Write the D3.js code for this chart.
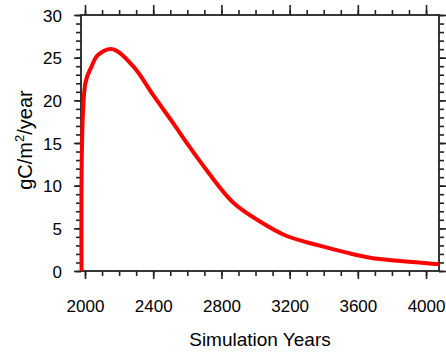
<!DOCTYPE html>
<html>
<head>
<meta charset="utf-8">
<script src="https://cdn.jsdelivr.net/npm/d3@7"></script>
<style>
  body { margin: 0; background: #fff; }
  svg text { font-family: "Liberation Sans", Arial, sans-serif; fill: #000; }
</style>
</head>
<body>
<svg id="chart" width="446" height="353"></svg>
<script>
// --- data ---
const years = [1980, 2002, 2037, 2076, 2160, 2282, 2400, 2518, 2604, 2721, 2870, 3026, 3183, 3370, 3535, 3672, 3848, 4063, 4076];
const flux  = [0, 22.0, 23.9, 25.3, 26.0, 24.0, 20.6, 17.3, 14.8, 11.6, 8.0, 5.8, 4.1, 3.0, 2.15, 1.56, 1.17, 0.82, 0.80];
const xTickValues = [2000, 2400, 2800, 3200, 3600, 4000];
const yTickValues = [0, 5, 10, 15, 20, 25, 30];

// frame edges (pixels)
const frameL = 81, frameR = 439, frameT = 15, frameB = 271;

const svg = d3.select("#chart");

const x = d3.scaleLinear().domain([1976.5, 4076]).range([frameL, frameR]);
const y = d3.scaleLinear().domain([0, 30]).range([frameB, frameT]);

const xMinor = d3.range(2000, 4076, 100);
const yMinor = d3.range(0, 31, 1);

const axisColor = "#222";

// ==========================================
// axes: ticks point outward on all four sides
// ==========================================
function styleAxis(g) {
    g.select(".domain").remove();
    g.selectAll("line").attr("stroke", axisColor).attr("stroke-width", 1.6);
}

// minor ticks first, majors on top
svg.append("g").attr("transform", `translate(0,${frameB})`)
    .call(d3.axisBottom(x).tickValues(xMinor).tickSize(5).tickFormat(""))
    .call(styleAxis);
svg.append("g").attr("transform", `translate(0,${frameT})`)
    .call(d3.axisTop(x).tickValues(xMinor).tickSize(5).tickFormat(""))
    .call(styleAxis);
svg.append("g").attr("transform", `translate(${frameL},0)`)
    .call(d3.axisLeft(y).tickValues(yMinor).tickSize(5).tickFormat(""))
    .call(styleAxis);
svg.append("g").attr("transform", `translate(${frameR},0)`)
    .call(d3.axisRight(y).tickValues(yMinor).tickSize(5).tickFormat(""))
    .call(styleAxis);

const xAxis = svg.append("g").attr("transform", `translate(0,${frameB})`)
    .call(d3.axisBottom(x).tickValues(xTickValues).tickSize(8).tickFormat(d3.format("d")))
    .call(styleAxis);
svg.append("g").attr("transform", `translate(0,${frameT})`)
    .call(d3.axisTop(x).tickValues(xTickValues).tickSize(10).tickFormat(""))
    .call(styleAxis);
const yAxis = svg.append("g").attr("transform", `translate(${frameL},0)`)
    .call(d3.axisLeft(y).tickValues(yTickValues).tickSize(7).tickFormat(d3.format("d")))
    .call(styleAxis);
svg.append("g").attr("transform", `translate(${frameR},0)`)
    .call(d3.axisRight(y).tickValues(yTickValues).tickSize(8).tickFormat(""))
    .call(styleAxis);

xAxis.selectAll("text").attr("font-size", 17).attr("fill", "#000").attr("dy", 0).attr("y", 41);
yAxis.selectAll("text").attr("font-size", 17).attr("fill", "#000").attr("dy", "0.36em").attr("x", -19);

// frame box
svg.append("rect")
    .attr("x", frameL).attr("y", frameT)
    .attr("width", frameR - frameL).attr("height", frameB - frameT)
    .attr("fill", "none").attr("stroke", axisColor).attr("stroke-width", 1.8);

// ==========================================
// the curve
// ==========================================
const points = years.map((d, i) => [d, flux[i]]);
const line = d3.line()
    .x(d => x(d[0]))
    .y(d => y(d[1]))
    .curve(d3.curveCatmullRom.alpha(0.5));

svg.append("path")
    .datum(points)
    .attr("d", line)
    .attr("fill", "none")
    .attr("stroke", "#ff0000")
    .attr("stroke-width", 4)
    .attr("stroke-linejoin", "round");

// ==========================================
// titles
// ==========================================
svg.append("text")
    .attr("x", (frameL + frameR) / 2).attr("y", 346)
    .attr("text-anchor", "middle")
    .attr("font-size", 19)
    .text("Simulation Years");

const yTitle = svg.append("text")
    .attr("transform", "translate(32,140) rotate(-90)")
    .attr("text-anchor", "middle")
    .attr("font-size", 20);
yTitle.append("tspan").text("gC/m");
yTitle.append("tspan").attr("font-size", 13).attr("dy", -8).text("2");
yTitle.append("tspan").attr("dy", 8).text("/year");
</script>
</body>
</html>
